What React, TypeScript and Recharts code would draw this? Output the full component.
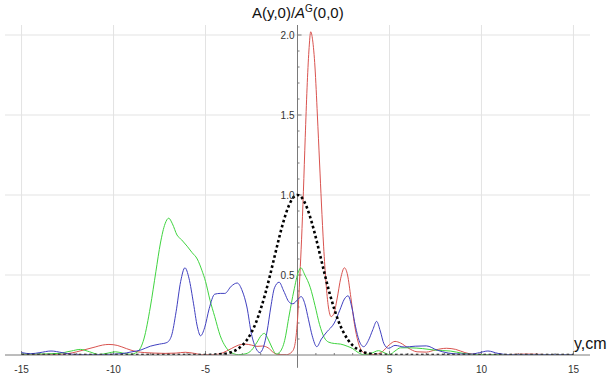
import React from 'react';
import { LineChart, Line, XAxis, YAxis, CartesianGrid, ReferenceLine } from 'recharts';

// ---- data (y in cm, amplitude ratio) ----
const redX = [-15, -14, -13, -12.5, -12, -11.5, -11, -10.6, -10.25, -9.8, -9.3, -8.8, -8.3, -7.8, -7.2, -6.6, -6.1, -5.6, -5.2, -4.6, -4.1, -3.6, -3.2, -2.85, -2.5, -2.2, -1.9, -1.6, -1.3, -1.0, -0.6, -0.3, -0.15, 0, 0.13, 0.22, 0.32, 0.42, 0.52, 0.62, 0.72, 0.82, 0.95, 1.08, 1.2, 1.3, 1.42, 1.55, 1.68, 1.83, 1.98, 2.15, 2.35, 2.55, 2.72, 2.9, 3.1, 3.3, 3.5, 3.8, 4.2, 4.6, 5.0, 5.3, 5.6, 6.0, 6.5, 7.0, 7.5, 8.1, 8.6, 9.1, 9.6, 10.5, 11.5, 12.5, 13.5, 15];
const redV = [0.003, 0.003, 0.004, 0.008, 0.02, 0.035, 0.05, 0.062, 0.066, 0.06, 0.04, 0.022, 0.015, 0.012, 0.01, 0.012, 0.017, 0.01, 0.002, 0.002, 0.012, 0.04, 0.062, 0.068, 0.062, 0.054, 0.056, 0.045, 0.015, 0.002, 0.002, 0.02, 0.06, 0.22, 0.5, 0.72, 1.02, 1.36, 1.67, 1.9, 2.02, 1.97, 1.8, 1.5, 1.2, 0.95, 0.68, 0.45, 0.3, 0.24, 0.26, 0.35, 0.48, 0.545, 0.5, 0.36, 0.19, 0.08, 0.025, 0.004, 0.003, 0.02, 0.065, 0.085, 0.075, 0.045, 0.02, 0.018, 0.032, 0.042, 0.035, 0.015, 0.004, 0.002, 0.003, 0.006, 0.003, 0.002];

const greenX = [-15, -14, -13, -12.3, -11.8, -11.3, -10.8, -10.3, -9.9, -9.5, -9.1, -8.7, -8.35, -8.0, -7.7, -7.45, -7.2, -7.0, -6.8, -6.55, -6.3, -6.0, -5.73, -5.45, -5.2, -5.0, -4.75, -4.5, -4.2, -3.9, -3.6, -3.2, -2.8, -2.5, -2.2, -1.95, -1.8, -1.6, -1.4, -1.15, -0.95, -0.7, -0.45, -0.2, 0.05, 0.18, 0.4, 0.7, 0.95, 1.2, 1.45, 1.7, 2.0, 2.35, 2.7, 3.0, 3.3, 3.6, 4.0, 4.4, 4.7, 5.0, 5.3, 5.6, 6.1, 6.8, 7.5, 8.3, 9.0, 9.6, 11, 13, 15];
const greenV = [0.005, 0.006, 0.01, 0.025, 0.035, 0.02, 0.003, 0.012, 0.02, 0.012, 0.004, 0.02, 0.1, 0.3, 0.52, 0.7, 0.82, 0.855, 0.82, 0.75, 0.72, 0.68, 0.64, 0.6, 0.53, 0.46, 0.34, 0.24, 0.12, 0.05, 0.015, 0.002, 0.008, 0.03, 0.08, 0.125, 0.135, 0.1, 0.05, 0.006, 0.02, 0.09, 0.25, 0.4, 0.52, 0.545, 0.5, 0.42, 0.31, 0.19, 0.11, 0.08, 0.072, 0.068, 0.055, 0.04, 0.015, 0.002, 0.01, 0.027, 0.015, 0.002, 0.025, 0.045, 0.045, 0.04, 0.03, 0.025, 0.01, 0.003, 0.002, 0.003, 0.002];

const blueX = [-15, -14.5, -14, -13.4, -12.8, -12.2, -11.5, -10.5, -9.6, -9.0, -8.5, -8.0, -7.5, -7.1, -6.85, -6.6, -6.35, -6.12, -5.9, -5.65, -5.45, -5.27, -5.05, -4.8, -4.5, -4.2, -3.95, -3.6, -3.28, -3.0, -2.75, -2.5, -2.25, -2.05, -1.85, -1.65, -1.45, -1.25, -1.0, -0.75, -0.45, -0.25, 0.0, 0.2, 0.4, 0.6, 0.8, 1.05, 1.3, 1.6, 2.0, 2.3, 2.55, 2.75, 2.95, 3.15, 3.35, 3.6, 3.85, 4.1, 4.3, 4.5, 4.7, 4.95, 5.3, 5.8, 6.4, 7.0, 7.6, 8.2, 8.8, 9.4, 9.9, 10.35, 10.9, 11.5, 13, 15];
const blueV = [0.015, 0.008, 0.015, 0.025, 0.015, 0.004, 0.002, 0.003, 0.008, 0.02, 0.032, 0.055, 0.068, 0.078, 0.12, 0.27, 0.46, 0.545, 0.48, 0.32, 0.18, 0.12, 0.17, 0.29, 0.38, 0.385, 0.385, 0.43, 0.45, 0.4, 0.3, 0.13, 0.04, 0.015, 0.05, 0.15, 0.3, 0.42, 0.455, 0.4, 0.33, 0.32, 0.345, 0.365, 0.32, 0.22, 0.12, 0.052, 0.1, 0.145, 0.2, 0.28, 0.35, 0.37, 0.3, 0.18, 0.09, 0.052, 0.09, 0.16, 0.21, 0.15, 0.07, 0.042, 0.06, 0.05, 0.055, 0.057, 0.03, 0.012, 0.006, 0.005, 0.015, 0.025, 0.01, 0.002, 0.002, 0.002];

const gaussX = [-15, -6, -5, -4.5, -4, -3.75, -3.5, -3.25, -3, -2.75, -2.5, -2.25, -2, -1.75, -1.5, -1.25, -1, -0.75, -0.5, -0.25, 0, 0.25, 0.5, 0.75, 1, 1.25, 1.5, 1.75, 2, 2.25, 2.5, 2.75, 3, 3.25, 3.5, 3.75, 4, 4.5, 5, 6, 15];
const gaussV = [0, 0, 0, 0.002, 0.007, 0.012, 0.022, 0.037, 0.06, 0.094, 0.142, 0.205, 0.287, 0.384, 0.495, 0.614, 0.732, 0.839, 0.925, 0.981, 1, 0.981, 0.925, 0.839, 0.732, 0.614, 0.495, 0.384, 0.287, 0.205, 0.142, 0.094, 0.06, 0.037, 0.022, 0.012, 0.007, 0.002, 0, 0, 0];

const xMajorTicks = [-15, -10, -5, 5, 10, 15];
const xMinorTicks = [-14, -13, -12, -11, -9, -8, -7, -6, -4, -3, -2, -1, 1, 2, 3, 4, 6, 7, 8, 9, 11, 12, 13, 14];
const yMajorTicks = [0.5, 1, 1.5, 2];
const yTickLabels = ['0.5', '1.0', '1.5', '2.0'];
const yMinorTicks = [0.1, 0.2, 0.3, 0.4, 0.6, 0.7, 0.8, 0.9, 1.1, 1.2, 1.3, 1.4, 1.6, 1.7, 1.8, 1.9];

const zip = (xs: number[], vs: number[]) => xs.map((x, i) => ({ x, v: vs[i] }));
const redData = zip(redX, redV);
const greenData = zip(greenX, greenV);
const blueData = zip(blueX, blueV);
const gaussData = zip(gaussX, gaussV);

const FONT = '"Liberation Sans", Arial, sans-serif';
const AXIS = '#7a7a7a';

export default function App() {
  return (
    <div style={{ position: 'absolute', left: 0, top: 0, width: 611, height: 376, background: '#fff', fontFamily: FONT }}>
      <LineChart width={611} height={376} margin={{ top: 25, right: 21, bottom: 0, left: 5 }}>
        <CartesianGrid stroke="#e3e3e3" horizontalValues={yMajorTicks} verticalValues={xMajorTicks} />
        <XAxis
          type="number"
          dataKey="x"
          domain={[-15.9, 15.9]}
          ticks={xMajorTicks}
          allowDataOverflow
          height={21}
          tickLine={false}
          tickMargin={5}
          axisLine={{ stroke: AXIS }}
          tick={{ fontSize: 10, fill: '#333', fontFamily: FONT }}
        />
        <YAxis type="number" domain={[0, 2.0625]} allowDataOverflow hide ticks={yMajorTicks} />
        <ReferenceLine x={0} stroke={AXIS} />
        <ReferenceLine segment={[{ x: 0, y: 0 }, { x: 0, y: -0.08 }]} stroke={AXIS} ifOverflow="visible" />
        {xMajorTicks.map((t) => (
          <ReferenceLine key={'xM' + t} segment={[{ x: t, y: 0 }, { x: t, y: 0.025 }]} stroke={AXIS} />
        ))}
        {xMinorTicks.map((t) => (
          <ReferenceLine key={'xm' + t} segment={[{ x: t, y: 0 }, { x: t, y: 0.0125 }]} stroke={AXIS} />
        ))}
        {yMajorTicks.map((t, i) => (
          <ReferenceLine
            key={'yM' + t}
            segment={[{ x: 0, y: t }, { x: 0.22, y: t }]}
            stroke={AXIS}
            label={{ value: yTickLabels[i], position: 'left', offset: 3, fontSize: 10, fill: '#333', fontFamily: FONT }}
          />
        ))}
        {yMinorTicks.map((t) => (
          <ReferenceLine key={'ym' + t} segment={[{ x: 0, y: t }, { x: 0.11, y: t }]} stroke={AXIS} />
        ))}
        <Line data={redData} dataKey="v" type="monotone" stroke="#d9534f" strokeWidth={1} dot={false} isAnimationActive={false} />
        <Line data={greenData} dataKey="v" type="monotone" stroke="#3fd43f" strokeWidth={1} dot={false} isAnimationActive={false} />
        <Line data={blueData} dataKey="v" type="monotone" stroke="#4040c0" strokeWidth={1} dot={false} isAnimationActive={false} />
        <Line data={gaussData} dataKey="v" type="monotone" stroke="#000" strokeWidth={2.6} strokeDasharray="2.6 2.6" dot={false} isAnimationActive={false} />
      </LineChart>
      <svg width={611} height={376} style={{ position: 'absolute', left: 0, top: 0, pointerEvents: 'none' }}>
        <text x={252} y={18} fontSize={15} fill="#111" fontFamily={FONT}>
          A(y,0)/<tspan fontStyle="italic">A</tspan>
          <tspan dy={-6} fontSize={10}>G</tspan>
          <tspan dy={6}>(0,0)</tspan>
        </text>
        <text x={574} y={349} fontSize={16} fill="#111" fontFamily={FONT}>y,cm</text>
      </svg>
    </div>
  );
}
